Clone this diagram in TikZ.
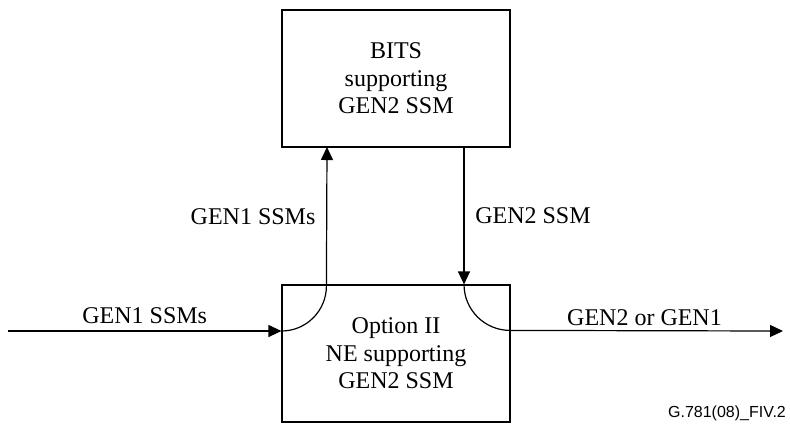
\documentclass[tikz,border=0pt]{standalone}
\usepackage{fontspec}
\setmainfont{Liberation Serif}
\newfontfamily\capfont{Liberation Sans}
\usetikzlibrary{arrows.meta}

\begin{document}
\begin{tikzpicture}[x=0.5pt, y=-0.5pt, >={Triangle[length=6.5pt,width=6pt]}, line width=0.6pt,
		blk/.style={draw, minimum width=114pt, minimum height=68.5pt, align=center, font=\fontsize{12}{13.75}\selectfont},
		lbl/.style={font=\fontsize{12}{14}\selectfont}]
		\useasboundingbox (0,0) rectangle (790,425);
		\node[blk] (bits) at (396,78.5) {BITS\\supporting\\GEN2 SSM};
		\node[blk] (ne) at (396,353.5) {Option II\\NE supporting\\GEN2 SSM};
		\coordinate (in) at (8,331);
		\coordinate (out) at (783,331);
		\coordinate (up) at (327,147);
		\coordinate (dn) at (464,147);
		\draw[->] (in) -- node[lbl, above] {GEN1 SSMs} (ne.west |- in);
		\draw[->] (ne.west |- in) arc[start angle=270, end angle=360, radius=22.5pt]
			-- node[lbl, left, xshift=-2pt] {GEN1 SSMs} (up);
		\draw[->] (dn) -- node[lbl, right, xshift=2pt] {GEN2 SSM} (dn |- ne.north);
		\draw[->] (dn |- ne.north) arc[start angle=180, end angle=270, radius=23pt]
			-- node[lbl, above, xshift=-1pt, yshift=-1pt] {GEN2 or GEN1} (out);
		\node[font=\capfont\fontsize{8}{9.6}\selectfont] (fig) at (727,413) {G.781(08)\_FIV.2};
	\end{tikzpicture}
\end{document}
